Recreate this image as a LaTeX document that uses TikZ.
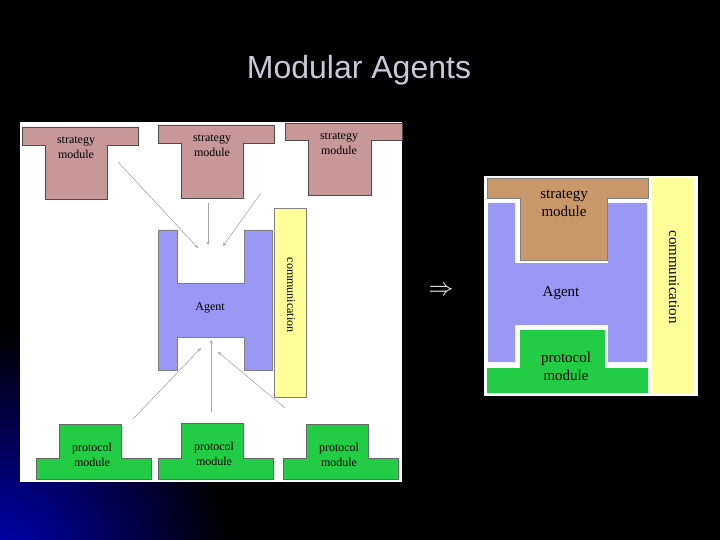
\documentclass[tikz,border=0pt]{standalone}
\usepackage{fontspec}
\newfontfamily\titlefont{Liberation Sans}
\setmainfont{Liberation Serif}
\begin{document}
\begin{tikzpicture}[x=1pt,y=-1pt,
  strat/.style={draw=black!70,fill=stratc,line width=0.8pt},
  prot/.style={draw=black!60,fill=protc,line width=0.6pt},
  agent/.style={draw=black!50,fill=agentc,line width=0.6pt},
  comm/.style={draw=black!50,fill=commc,line width=0.6pt},
  lbl/.style={font=\fontsize{12}{15}\selectfont,align=center,inner sep=0pt},
  rlbl/.style={font=\fontsize{15}{18}\selectfont,align=center,inner sep=0pt},
  arr/.style={draw=gray!70,line width=0.6pt,-stealth}]
\definecolor{stratc}{HTML}{C89898}
\definecolor{strat2}{HTML}{C8976A}
\definecolor{protc}{HTML}{22CC44}
\definecolor{agentc}{HTML}{9999F5}
\definecolor{commc}{HTML}{FFFF99}
\definecolor{titlec}{HTML}{C8C8D8}
\useasboundingbox (0,0) rectangle (720,540);
\fill[black] (0,0) rectangle (720,540);
\begin{scope}
\clip (0,0) rectangle (720,540);
\shade[inner color=blue!70!black,outer color=black] (0,560) circle (230);
\end{scope}
\node[font=\titlefont\fontsize{32}{36}\selectfont,text=titlec] (title) at (359,70) {Modular Agents};
% left panel
\fill[white] (20,122) rectangle (402,482);
\draw[strat] (22,127) -- (138,127) -- (138,145) -- (107,145) -- (107,199) -- (45,199) -- (45,145) -- (22,145) -- cycle;
\draw[strat] (158,125) -- (274,125) -- (274,143) -- (243,143) -- (243,198) -- (181,198) -- (181,143) -- (158,143) -- cycle;
\draw[strat] (285,123) -- (402,123) -- (402,140) -- (371,140) -- (371,195) -- (308,195) -- (308,140) -- (285,140) -- cycle;
\node[lbl] (s1) at (76,148) {strategy\\module};
\node[lbl] (s2) at (212,146) {strategy\\module};
\node[lbl] (s3) at (339,144) {strategy\\module};
\draw[agent] (158,230) -- (177,230) -- (177,283) -- (244,283) -- (244,230) -- (272,230) -- (272,370) -- (244,370) -- (244,337) -- (177,337) -- (177,370) -- (158,370) -- cycle;
\node[lbl] (ag) at (210,308) {Agent};
\draw[comm] (274,208) rectangle (306,397);
\node[lbl,rotate=-90] (cm) at (291,295) {communication};
\draw[prot] (59,424) -- (121,424) -- (121,458) -- (151,458) -- (151,479) -- (36,479) -- (36,458) -- (59,458) -- cycle;
\draw[prot] (181,423) -- (243,423) -- (243,458) -- (273,458) -- (273,479) -- (158,479) -- (158,458) -- (181,458) -- cycle;
\draw[prot] (306,424) -- (368,424) -- (368,458) -- (398,458) -- (398,479) -- (283,479) -- (283,458) -- (306,458) -- cycle;
\node[lbl] (p1) at (92,455) {protocol\\module};
\node[lbl] (p2) at (214,454) {protocol\\module};
\node[lbl] (p3) at (339,455) {protocol\\module};
\coordinate (a1) at (118,162); \coordinate (b1) at (198,248);
\coordinate (a2) at (208,203); \coordinate (b2) at (208,245);
\coordinate (a3) at (261,193); \coordinate (b3) at (223,246);
\coordinate (a4) at (133,419); \coordinate (b4) at (201,348);
\coordinate (a5) at (211,412); \coordinate (b5) at (211,340);
\coordinate (a6) at (285,408); \coordinate (b6) at (218,352);
\foreach \i in {1,...,6} \draw[arr] (a\i) -- (b\i);
% arrow
\node[text=white,font=\fontsize{28}{30}\selectfont] (imp) at (441,291) {$\Rightarrow$};
% right panel
\fill[white] (484,176) rectangle (698,396);
\fill[agentc] (488,203) -- (515,203) -- (515,263) -- (608,263) -- (608,203) -- (647,203) -- (647,362) -- (608,362) -- (608,325) -- (515,325) -- (515,362) -- (488,362) -- cycle;
\draw[draw=black!50,fill=strat2] (487,178) -- (648,178) -- (648,198) -- (607,198) -- (607,260) -- (520,260) -- (520,198) -- (487,198) -- cycle;
\fill[protc] (520,330) -- (605,330) -- (605,368) -- (648,368) -- (648,393) -- (487,393) -- (487,368) -- (520,368) -- cycle;
\fill[commc] (652,178) rectangle (694,393);
\node[rlbl] (s4) at (564,203) {strategy\\module};
\node[rlbl] (ag2) at (561,293) {Agent};
\node[rlbl] (p4) at (566,366) {protocol\\module};
\node[rlbl,rotate=-90] (cm2) at (674,277) {communication};
\end{tikzpicture}
\end{document}
